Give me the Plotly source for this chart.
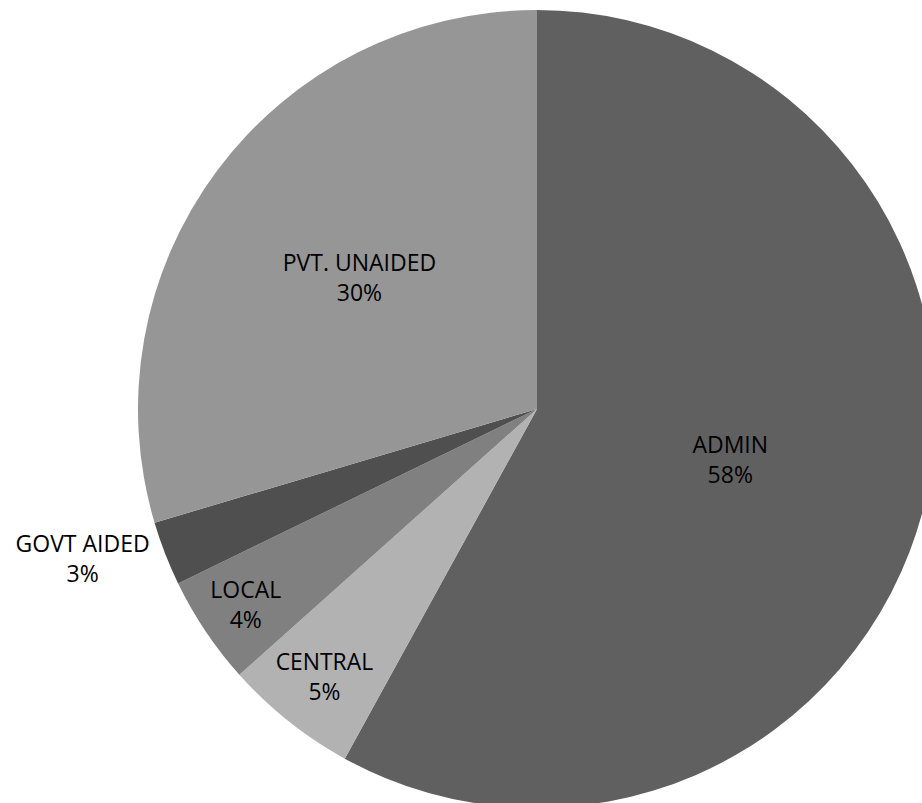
import plotly.graph_objects as go

labels = ["ADMIN", "CENTRAL", "LOCAL", "GOVT AIDED", "PVT. UNAIDED"]
values = [58.0, 5.4, 4.4, 2.6, 29.6]
colors = ["#606060", "#b2b2b2", "#808080", "#4f4f4f", "#969696"]
text_pos = ["inside", "inside", "inside", "outside", "inside"]

W, H = 940, 812
cx, cy, r = 537, 409, 399

fig = go.Figure(go.Pie(
    labels=labels,
    values=values,
    sort=False,
    direction="clockwise",
    rotation=0,
    marker=dict(colors=colors, line=dict(width=0)),
    texttemplate="%{label}<br>%{percent:.0%}",
    textposition=text_pos,
    insidetextorientation="horizontal",
    textfont=dict(family="Open Sans, sans-serif", size=23, color="#000000"),
    showlegend=False,
    hoverinfo="label+percent",
    domain=dict(x=[(cx - r) / W, (cx + r) / W],
                y=[(H - cy - r) / H, (H - cy + r) / H]),
))

fig.update_layout(
    width=W, height=H,
    margin=dict(l=0, r=0, t=0, b=0),
    paper_bgcolor="white",
    plot_bgcolor="white",
)

fig.write_html("out.html", config={"displayModeBar": False},
               post_script="document.body.style.margin='0';document.body.style.overflow='hidden';")
